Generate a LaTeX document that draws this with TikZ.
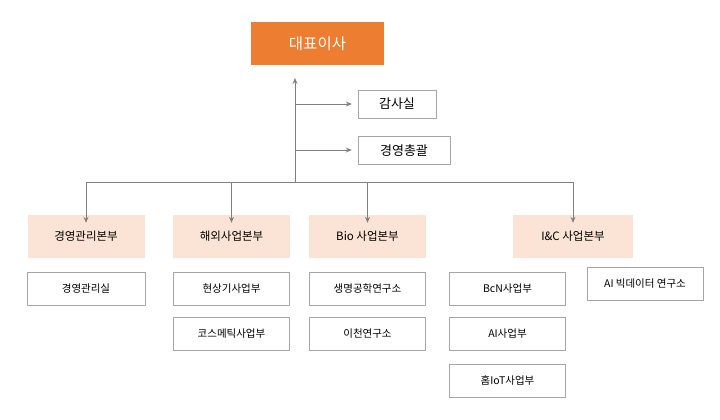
\documentclass[tikz,border=0pt]{standalone}
\usepackage{fontspec}
\setmainfont{Noto Sans CJK KR}
\usetikzlibrary{arrows.meta}
\definecolor{ceoorange}{RGB}{237,125,49}
\definecolor{divpeach}{RGB}{251,228,213}
\definecolor{linegray}{RGB}{128,128,128}
\tikzset{
  ceobox/.style={fill=ceoorange,text=white,minimum width=133pt,minimum height=43pt,font=\fontsize{15.5}{18}\selectfont},
  staffbox/.style={draw=linegray!70,fill=white,minimum height=28pt,font=\fontsize{13}{15}\selectfont},
  divbox/.style={fill=divpeach,minimum width=117pt,minimum height=43pt,font=\fontsize{11.5}{13}\selectfont},
  unitbox/.style={draw=linegray!70,fill=white,minimum width=116pt,minimum height=33pt,font=\fontsize{10.5}{12}\selectfont},
  conn/.style={draw=linegray,line width=0.9pt,-{Stealth[length=6pt,width=5pt]}}
}
\begin{document}
\begin{tikzpicture}[x=1pt,y=-1pt]
  \useasboundingbox (0,0) rectangle (720,420);
  %% top
  \node[ceobox] (CEO) at (317.5,43.5) {대표이사};
  \node[staffbox,minimum width=78pt] (AUDIT) at (397,104) {감사실};
  \node[staffbox,minimum width=92pt] (MGMT) at (404,150.5) {경영총괄};
  \coordinate (TRUNK) at (295,182);
  \coordinate (TIP) at (295,78);
  \coordinate (A0) at (295,104);
  \coordinate (M0) at (295,150);
  \draw[conn] (TRUNK) -- (TIP);
  \draw[conn] (A0) -- ([xshift=-6pt]AUDIT.west);
  \draw[conn] (M0) -- ([xshift=-6pt]MGMT.west|-M0);
  %% divisions
  \node[divbox] (D1) at (86,236.5) {경영관리본부};
  \node[divbox] (D2) at (231.5,236.5) {해외사업본부};
  \node[divbox] (D3) at (367.5,236.5) {Bio 사업본부};
  \node[divbox,minimum width=120pt] (D4) at (573,236.5) {I\&C 사업본부};
  \coordinate (BL) at (86,182);
  \coordinate (BR) at (573,182);
  \draw[draw=linegray,line width=0.9pt] (BL) -- (BR);
  \foreach \d in {D1,D2,D3,D4}
    \draw[conn] (\d.north|-BL) -- ([yshift=-8pt]\d.north);
  %% units
  \node[unitbox,minimum width=118pt] (U1) at (86,288.5) {경영관리실};
  \node[unitbox] (U2) at (231.5,288.5) {현상기사업부};
  \node[unitbox] (U3) at (231.5,334) {코스메틱사업부};
  \node[unitbox] (U4) at (367.5,288.5) {생명공학연구소};
  \node[unitbox] (U5) at (367.5,334) {이천연구소};
  \node[unitbox] (U6) at (507.5,288.5) {BcN사업부};
  \node[unitbox] (U7) at (507.5,334) {AI사업부};
  \node[unitbox] (U8) at (507.5,380.5) {홈IoT사업부};
  \node[unitbox] (U9) at (645,283.5) {AI 빅데이터 연구소};
\end{tikzpicture}
\end{document}
